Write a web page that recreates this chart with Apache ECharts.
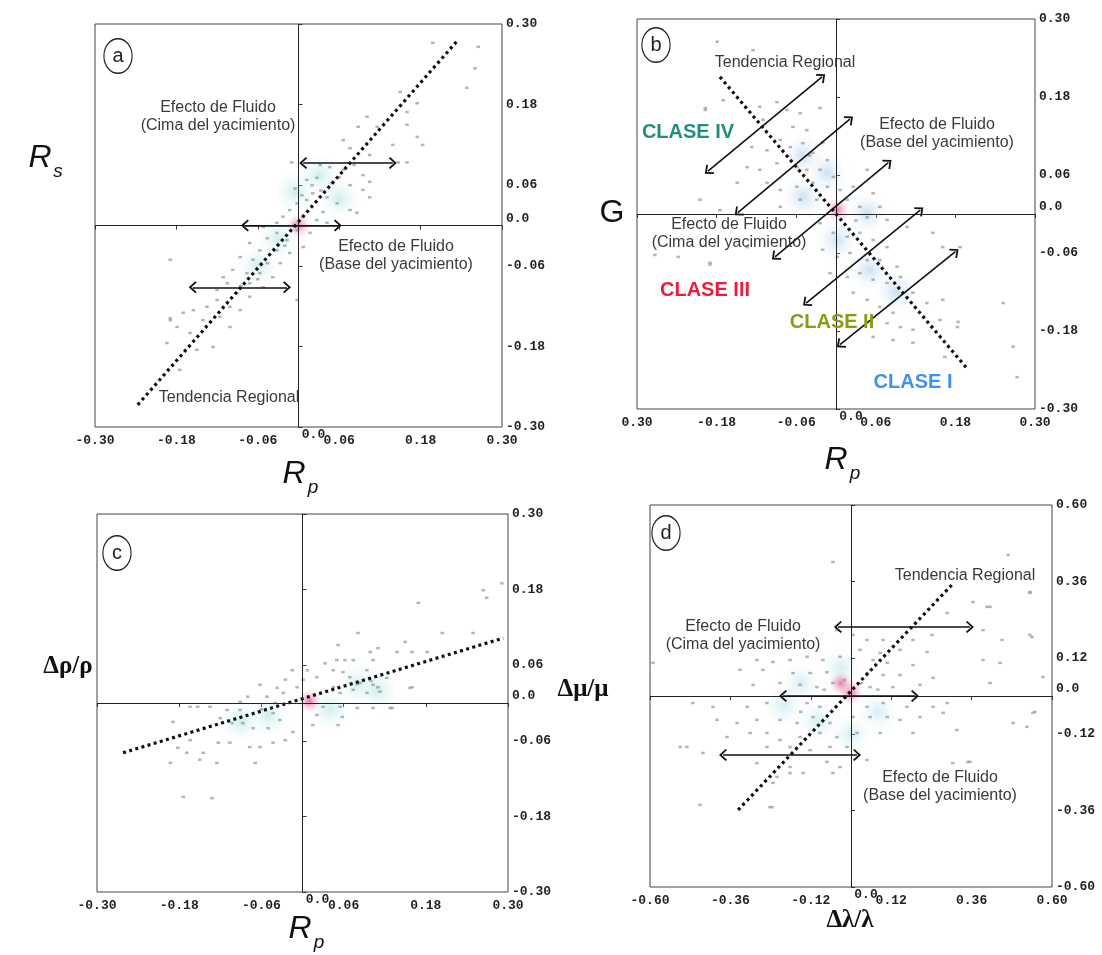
<!DOCTYPE html>
<html>
<head>
<meta charset="utf-8">
<script src="https://cdn.jsdelivr.net/npm/echarts@6/dist/echarts.min.js"></script>
<style>
	html, body { margin: 0; padding: 0; background: #fff; }
	#chart { width: 1102px; height: 955px; }
</style>
</head>
<body>
<div id="chart"></div>
<script>
// Tick values and labels
const ticks30 = [ -0.30, -0.18, -0.06, 0, 0.06, 0.18, 0.30 ];
const labels30 = [ '-0.30', '-0.18', '-0.06', '0.0', '0.06', '0.18', '0.30' ];
const labelsBx = [ '0.30', '-0.18', '-0.06', '0.0', '0.06', '0.18', '0.30' ];
const ticks60 = [ -0.60, -0.36, -0.12, 0, 0.12, 0.36, 0.60 ];
const labels60 = [ '-0.60', '-0.36', '-0.12', '0.0', '0.12', '0.36', '0.60' ];

// (a) Rp vs Rs
const puntosA = [
	[0.198,0.272],[0.265,0.266],[0.260,0.234],[0.248,0.205],[0.150,0.199],[0.175,0.182],[0.160,0.169],
	[0.101,0.162],[0.116,0.147],[0.088,0.147],[0.160,0.150],[0.175,0.132],[0.183,0.120],[0.139,0.120],
	[0.066,0.127],[0.076,0.115],[0.105,0.105],[-0.010,0.094],[0.147,0.094],[0.160,0.094],[0.046,0.087],
	[0.066,0.083],[0.095,0.075],[0.027,0.071],[0.012,0.068],[0.049,0.063],[0.076,0.060],[0.105,0.065],
	[0.021,0.048],[0.042,0.042],[0.095,0.053],[0.105,0.042],[0.012,0.038],[-0.002,0.033],[0.057,0.033],
	[0.076,0.023],[0.086,0.019],[0.036,0.020],[-0.013,0.023],[-0.023,0.013],[0.007,0.013],[0.027,0.008],
	[0.042,0.004],[-0.032,0.004],[-0.052,-0.002],[-0.002,-0.007],[0.017,-0.011],[-0.032,-0.011],
	[-0.046,-0.019],[-0.017,-0.022],[0.007,-0.032],[-0.072,-0.026],[-0.057,-0.037],[-0.032,-0.037],
	[-0.013,-0.041],[-0.189,-0.051],[-0.086,-0.047],[-0.067,-0.051],[-0.046,-0.056],[-0.027,-0.056],
	[-0.097,-0.066],[-0.076,-0.071],[-0.057,-0.071],[-0.038,-0.077],[-0.111,-0.077],[-0.105,-0.086],
	[-0.072,-0.086],[-0.052,-0.092],[-0.120,-0.096],[-0.091,-0.101],[-0.072,-0.106],[-0.002,-0.111],
	[-0.120,-0.111],[-0.101,-0.121],[-0.135,-0.121],[-0.086,-0.126],[-0.155,-0.126],[-0.116,-0.136],
	[-0.170,-0.130],[-0.189,-0.141],[-0.141,-0.141],[-0.179,-0.151],[-0.101,-0.151],[-0.160,-0.160],
	[-0.194,-0.175],[-0.150,-0.185],[-0.126,-0.181],[-0.175,-0.215],[-0.189,-0.138],
	[0.020,0.060],[0.033,0.052],[-0.005,0.055],[0.060,0.072],[0.082,0.090],[0.032,0.090],[-0.020,-0.030],
	[-0.060,-0.080],[-0.085,-0.090],[0.005,0.045]
];
const tendenciaA = [ [-0.237,-0.267], [0.235,0.276] ];
const flechasA = [ [0.007,0.093,0.139,0.093], [-0.079,0,0.058,0], [-0.156,-0.092,-0.017,-0.092] ];
const haloCianA = [ [-0.005,0.05], [0.03,0.075], [-0.03,-0.02], [-0.06,-0.06], [0.06,0.04] ];
const haloRosaA = [ [0.0,0.0] ];

// (b) Rp vs G
const puntosB = [
	[-0.197,0.160],[-0.170,0.175],[-0.115,0.165],[-0.089,0.172],[-0.074,0.160],[-0.054,0.155],[-0.024,0.163],
	[-0.110,0.145],[-0.065,0.134],[-0.044,0.129],[-0.127,0.103],[-0.104,0.098],[-0.084,0.114],[-0.069,0.103],
	[-0.050,0.109],[-0.035,0.094],[-0.013,0.083],[-0.134,0.072],[-0.115,0.068],[-0.089,0.078],[-0.059,0.072],
	[-0.044,0.068],[-0.024,0.068],[-0.004,0.057],[-0.149,0.048],[-0.104,0.048],[-0.084,0.037],[-0.059,0.042],
	[-0.035,0.048],[-0.013,0.042],[0.006,0.037],[0.026,0.042],[0.047,0.068],[0.056,0.032],[-0.084,0.011],
	[-0.054,0.022],[-0.029,0.022],[0.017,0.022],[0.036,0.011],[0.047,-0.005],[0.066,0.011],[0.077,-0.009],
	[0.107,-0.020],[-0.024,-0.014],[-0.004,-0.029],[0.017,-0.035],[0.036,-0.029],[0.056,-0.040],[0.077,-0.051],
	[-0.020,-0.055],[0.002,-0.066],[0.021,-0.060],[0.047,-0.071],[0.066,-0.071],[0.092,-0.081],[0.146,-0.029],
	[0.161,-0.051],[0.187,-0.051],[-0.009,-0.091],[0.017,-0.097],[0.036,-0.091],[0.056,-0.101],[0.077,-0.106],
	[0.097,-0.097],[0.116,-0.121],[0.137,-0.137],[0.161,-0.132],[0.026,-0.121],[0.047,-0.132],[0.066,-0.143],
	[0.086,-0.152],[0.077,-0.168],[0.097,-0.174],[0.116,-0.178],[0.157,-0.163],[0.183,-0.174],[0.086,-0.194],
	[0.116,-0.198],[0.056,-0.189],[-0.190,-0.075],[-0.134,-0.051],[-0.175,0.006],[-0.205,0.022],
	[-0.179,0.265],[-0.125,0.252],[-0.197,0.163],[0.252,-0.137],[0.273,-0.251],[0.267,-0.204],[0.184,-0.166],
	[0.164,-0.220],[-0.273,-0.063],[-0.190,-0.078],[-0.238,-0.066],[-0.040,0.090],[-0.020,0.110],[0.030,-0.010]
];
const tendenciaB = [ [-0.175,0.211], [0.197,-0.237] ];
const flechasB = [
	[-0.193,0.066,-0.021,0.211], [-0.148,0.002,0.021,0.146], [-0.092,-0.066,0.079,0.079],
	[-0.045,-0.137,0.127,0.006], [0.006,-0.201,0.180,-0.058]
];
const haloCianB = [ [-0.05,0.09], [-0.013,0.063], [-0.05,0.026], [0.047,0.002], [0.002,-0.04], [0.051,-0.086], [0.09,-0.12] ];
const haloRosaB = [ [0.002,0.006] ];

// (c) Rp vs density
const puntosC = [
	[0.169,0.159],[0.081,0.111],[0.204,0.111],[0.249,0.111],[0.052,0.092],[0.099,0.081],[0.110,0.087],
	[0.138,0.081],[0.160,0.081],[0.182,0.081],[0.150,0.097],[0.050,0.068],[0.062,0.068],[0.074,0.068],
	[0.103,0.068],[0.033,0.063],[-0.015,0.052],[0.007,0.052],[0.045,0.052],[0.059,0.049],[0.094,0.052],
	[0.123,0.040],[-0.025,0.037],[0.001,0.037],[0.021,0.041],[0.069,0.041],[0.084,0.032],[0.103,0.029],
	[-0.062,0.029],[-0.037,0.024],[-0.008,0.025],[0.045,0.025],[0.074,0.021],[0.157,0.024],[-0.080,0.010],
	[-0.052,0.010],[-0.028,0.016],[0.055,0.016],[0.094,0.016],[0.113,0.018],[-0.091,0.002],[-0.164,-0.006],
	[-0.153,-0.006],[-0.135,-0.006],[-0.110,-0.011],[-0.091,-0.011],[0.030,-0.006],[0.055,-0.006],
	[0.080,-0.008],[0.103,-0.008],[0.131,-0.008],[-0.043,-0.016],[-0.033,-0.027],[0.021,-0.019],[0.058,-0.022],
	[-0.189,-0.030],[-0.120,-0.024],[-0.103,-0.032],[-0.087,-0.032],[-0.072,-0.040],[-0.050,-0.040],
	[-0.014,-0.046],[0.015,-0.035],[0.052,-0.035],[-0.164,-0.059],[-0.123,-0.063],[-0.106,-0.063],
	[-0.077,-0.070],[-0.062,-0.070],[-0.043,-0.063],[-0.025,-0.059],[-0.182,-0.071],[-0.169,-0.079],
	[-0.145,-0.079],[-0.150,-0.090],[-0.125,-0.095],[-0.069,-0.095],[-0.193,-0.095],[-0.174,-0.149],
	[-0.132,-0.151],[0.264,0.179],[0.291,0.190],[0.269,0.167],[0.160,0.025],[0.128,-0.008],
	[-0.060,-0.010],[-0.040,0.000],[0.080,0.030],[0.100,0.035],[0.110,0.025]
];
const tendenciaC = [ [-0.262,-0.079], [0.293,0.103] ];
const haloCianC = [ [0.08,0.03], [0.11,0.02], [-0.05,-0.02], [-0.09,-0.03], [0.04,-0.01] ];
const haloRosaC = [ [0.01,0.003] ];

// (d) dLambda/Lambda vs dMu/Mu
const puntosD = [
	[0.534,0.324],[0.364,0.295],[0.415,0.280],[0.287,0.261],[0.242,0.192],[0.394,0.207],[0.451,0.176],
	[0.534,0.192],[0.006,0.192],[0.048,0.176],[0.096,0.176],[0.185,0.176],[-0.042,0.207],[0.027,0.145],
	[0.087,0.135],[0.146,0.145],[0.227,0.138],[-0.281,0.113],[-0.233,0.107],[-0.182,0.113],[-0.131,0.123],
	[-0.084,0.113],[-0.033,0.123],[0.066,0.113],[0.108,0.104],[0.185,0.097],[0.394,0.113],[0.445,0.104],
	[-0.331,0.082],[-0.263,0.082],[-0.173,0.072],[-0.122,0.072],[-0.072,0.075],[0.048,0.072],[0.096,0.066],
	[0.146,0.066],[0.245,0.057],[0.573,0.060],[-0.292,0.035],[-0.212,0.041],[-0.152,0.035],[-0.102,0.028],
	[-0.054,0.041],[0.057,0.028],[0.125,0.028],[0.206,0.035],[0.415,0.041],[-0.472,-0.022],[-0.412,-0.034],
	[-0.310,-0.034],[-0.251,-0.022],[-0.131,-0.022],[-0.093,-0.034],[0.048,-0.034],[0.096,-0.022],
	[0.167,-0.034],[0.245,-0.034],[0.287,-0.022],[0.543,-0.053],[-0.400,-0.075],[-0.340,-0.085],
	[-0.281,-0.075],[-0.212,-0.075],[-0.161,-0.085],[-0.113,-0.066],[-0.063,-0.085],[0.006,-0.066],
	[0.057,-0.066],[0.108,-0.066],[0.146,-0.075],[0.206,-0.066],[0.275,-0.053],[0.484,-0.085],
	[-0.370,-0.129],[-0.301,-0.116],[-0.251,-0.116],[-0.212,-0.138],[-0.152,-0.129],[-0.093,-0.116],
	[-0.042,-0.129],[0.018,-0.116],[0.087,-0.116],[0.185,-0.116],[0.316,-0.107],[-0.490,-0.160],
	[-0.442,-0.179],[-0.251,-0.160],[-0.182,-0.160],[-0.122,-0.170],[-0.063,-0.160],[-0.012,-0.160],
	[0.048,-0.201],[-0.281,-0.211],[-0.182,-0.223],[-0.072,-0.207],[-0.033,-0.223],[-0.221,-0.254],
	[-0.182,-0.242],[-0.143,-0.242],[-0.054,-0.242],[-0.233,-0.273],[0.304,-0.211],[0.355,-0.207],
	[-0.242,-0.349],[-0.451,-0.342],[-0.054,0.421],[0.469,0.443],[0.534,0.327],[0.406,0.280],[0.540,0.185],
	[0.549,-0.050],[0.525,-0.097],[0.349,-0.207],[-0.236,-0.349],[-0.510,-0.160],[-0.591,0.104],
	[-0.020,0.050],[0.030,0.040],[-0.080,0.020],[-0.150,-0.050],[0.080,0.020]
];
const tendenciaD = [ [-0.337,-0.358], [0.301,0.349] ];
const flechasD = [ [-0.039,0.217,0.355,0.217], [-0.203,0,0.191,0], [-0.382,-0.185,0.018,-0.185] ];
const haloCianD = [ [-0.15,0.04], [-0.1,-0.08], [-0.03,0.09], [0.0,-0.12], [0.08,-0.05], [-0.2,-0.03] ];
const haloRosaD = [ [0.0,0.01], [-0.03,0.04] ];

const SANS = '"Liberation Sans", Arial, sans-serif';
const CHEVRON = 'path://M0,10 L10,0 L20,10 L18,12 L10,4 L2,12 Z';

const chart = echarts.init( document.getElementById( 'chart' ), null, { renderer: 'canvas' } );

const grids = [
	{ left: 95, top: 24, width: 407, height: 403 },
	{ left: 637, top: 19, width: 398, height: 390 },
	{ left: 97, top: 514, width: 411, height: 378 },
	{ left: 650, top: 505, width: 402, height: 382 }
];

function pickLabel( tickList, labelList, value, isX ) {
	const idx = tickList.findIndex( ( t ) => Math.abs( t - value ) < 1e-9 );
	if ( idx < 0 ) {
		return '';
	}
	if ( Math.abs( value ) < 1e-9 ) {
		return isX ? '{zx|' + labelList[ idx ] + '}' : '{zy|' + labelList[ idx ] + '}';
	}
	return labelList[ idx ];
}

function makeAxis( gridIndex, isX, tickList, labelList ) {
	const mono = { fontFamily: '"Liberation Mono", monospace', fontWeight: 'bold', fontSize: 13, color: '#222' };
	return {
		type: 'value',
		gridIndex: gridIndex,
		position: isX ? 'bottom' : 'right',
		min: tickList[ 0 ],
		max: tickList[ tickList.length - 1 ],
		interval: tickList[ 2 ] - tickList[ 1 ],
		splitLine: { show: false },
		axisLine: { show: false },
		axisTick: {
			show: true,
			length: 4,
			customValues: tickList,
			lineStyle: { color: '#333', width: 1 }
		},
		axisLabel: Object.assign( {
			customValues: tickList,
			margin: isX ? 7 : 4,
			formatter: ( v ) => pickLabel( tickList, labelList, v, isX ),
			rich: {
				zx: Object.assign( { padding: [ 0, 0, 0, 30 ], lineHeight: 2 }, mono ),
				zy: Object.assign( { padding: [ 0, 0, 14, 0 ] }, mono )
			}
		}, mono )
	};
}

function radial( inner, outer ) {
	return {
		type: 'radial', x: 0.5, y: 0.5, r: 0.5,
		colorStops: [ { offset: 0, color: inner }, { offset: 1, color: outer } ]
	};
}

function panelSeries( i, puntos, tendencia, flechas, haloCian, haloRosa, cianColor ) {
	return [
		{
			type: 'scatter', xAxisIndex: i, yAxisIndex: i, data: haloCian, symbolSize: 48,
			itemStyle: { color: radial( cianColor, 'rgba(255,255,255,0)' ) }, silent: true, z: 1
		},
		{
			type: 'scatter', xAxisIndex: i, yAxisIndex: i, data: haloRosa, symbolSize: 24,
			itemStyle: { color: radial( 'rgba(215,50,125,0.8)', 'rgba(240,160,200,0)' ) }, silent: true, z: 1
		},
		{
			type: 'scatter', xAxisIndex: i, yAxisIndex: i, data: puntos,
			symbol: 'rect', symbolSize: [ 3.5, 2.5 ],
			itemStyle: { color: '#8d9898', opacity: 0.7 },
			silent: true, z: 2,
			markLine: {
				silent: true,
				symbol: [ 'none', 'none' ],
				label: { show: false },
				lineStyle: { color: '#222', width: 1, type: 'solid' },
				data: [ { xAxis: 0 }, { yAxis: 0 } ]
			}
		},
		{
			type: 'line', xAxisIndex: i, yAxisIndex: i, data: tendencia,
			symbol: 'none', silent: true, z: 4,
			lineStyle: { color: '#111', width: 3.2, type: [ 3, 3.4 ] },
			markLine: flechas ? {
				silent: true,
				symbol: [ CHEVRON, CHEVRON ],
				symbolSize: [ 12, 8 ],
				label: { show: false },
				lineStyle: { color: '#111', width: 1.6, type: 'solid' },
				itemStyle: { color: '#111' },
				data: flechas.map( ( f ) => [ { coord: [ f[ 0 ], f[ 1 ] ] }, { coord: [ f[ 2 ], f[ 3 ] ] } ] )
			} : undefined
		}
	];
}

function text( x, y, str, font, fill ) {
	return {
		type: 'text', x: x, y: y, z: 100,
		style: { text: str, font: font, fill: fill || '#3a3a3a', align: 'center', verticalAlign: 'middle', lineHeight: 18 }
	};
}

function letterBadge( x, y, letter ) {
	return [
		{
			type: 'circle', x: x, y: y, scaleX: 0.88, scaleY: 1.08, z: 100,
			shape: { cx: 0, cy: 0, r: 16 },
			style: { fill: '#fff', stroke: '#222', lineWidth: 1.3 }
		},
		text( x, y, letter, '20px ' + SANS, '#222' )
	];
}

const ANNOT = '16px ' + SANS;
const CLASE = 'bold 20px ' + SANS;
const RFONT = 'italic 32px ' + SANS;
const SUBFONT = 'italic 19px ' + SANS;
const GREEK = 'bold 25px "Liberation Serif", "DejaVu Serif", serif';

const graphics = [].concat(
	letterBadge( 118, 56, 'a' ),
	letterBadge( 656, 45, 'b' ),
	letterBadge( 117, 553, 'c' ),
	letterBadge( 666, 533, 'd' ),
	[
		text( 218, 117, 'Efecto de Fluido\n(Cima del yacimiento)', ANNOT ),
		text( 396, 256, 'Efecto de Fluido\n(Base del yacimiento)', ANNOT ),
		text( 229, 398, 'Tendencia Regional', ANNOT ),

		text( 785, 63, 'Tendencia Regional', ANNOT ),
		text( 937, 134, 'Efecto de Fluido\n(Base del yacimiento)', ANNOT ),
		text( 729, 234, 'Efecto de Fluido\n(Cima del yacimiento)', ANNOT ),
		text( 688, 132, 'CLASE IV', CLASE, '#1f8f7c' ),
		text( 705, 290, 'CLASE III', CLASE, '#ee1b3d' ),
		text( 832, 322, 'CLASE II', CLASE, '#8c9a14' ),
		text( 913, 382, 'CLASE I', CLASE, '#3d92ee' ),

		text( 965, 576, 'Tendencia Regional', ANNOT ),
		text( 743, 636, 'Efecto de Fluido\n(Cima del yacimiento)', ANNOT ),
		text( 940, 787, 'Efecto de Fluido\n(Base del yacimiento)', ANNOT ),

		text( 40, 158, 'R', RFONT, '#111' ),
		text( 58, 172, 's', SUBFONT, '#111' ),
		text( 294, 474, 'R', RFONT, '#111' ),
		text( 313, 488, 'p', SUBFONT, '#111' ),
		text( 612, 213, 'G', '32px ' + SANS, '#111' ),
		text( 836, 460, 'R', RFONT, '#111' ),
		text( 855, 474, 'p', SUBFONT, '#111' ),
		text( 68, 667, 'Δρ/ρ', GREEK, '#111' ),
		text( 300, 929, 'R', RFONT, '#111' ),
		text( 319, 943, 'p', SUBFONT, '#111' ),
		text( 583, 690, 'Δμ/μ', GREEK, '#111' ),
		text( 850, 921, 'Δλ/λ', GREEK, '#111' )
	]
);

const option = {
	animation: false,
	backgroundColor: '#fff',
	grid: grids.map( ( g ) => Object.assign( {
		show: true, borderColor: '#444', borderWidth: 1, backgroundColor: 'transparent',
		containLabel: false, outerBoundsMode: 'none'
	}, g ) ),
	xAxis: [
		makeAxis( 0, true, ticks30, labels30 ),
		makeAxis( 1, true, ticks30, labelsBx ),
		makeAxis( 2, true, ticks30, labels30 ),
		makeAxis( 3, true, ticks60, labels60 )
	],
	yAxis: [
		makeAxis( 0, false, ticks30, labels30 ),
		makeAxis( 1, false, ticks30, labels30 ),
		makeAxis( 2, false, ticks30, labels30 ),
		makeAxis( 3, false, ticks60, labels60 )
	],
	series: [].concat(
		panelSeries( 0, puntosA, tendenciaA, flechasA, haloCianA, haloRosaA, 'rgba(140,215,215,0.55)' ),
		panelSeries( 1, puntosB, tendenciaB, flechasB, haloCianB, haloRosaB, 'rgba(150,190,230,0.6)' ),
		panelSeries( 2, puntosC, tendenciaC, null, haloCianC, haloRosaC, 'rgba(140,215,215,0.55)' ),
		panelSeries( 3, puntosD, tendenciaD, flechasD, haloCianD, haloRosaD, 'rgba(150,210,225,0.5)' )
	),
	graphic: graphics
};

chart.setOption( option );
</script>
</body>
</html>
